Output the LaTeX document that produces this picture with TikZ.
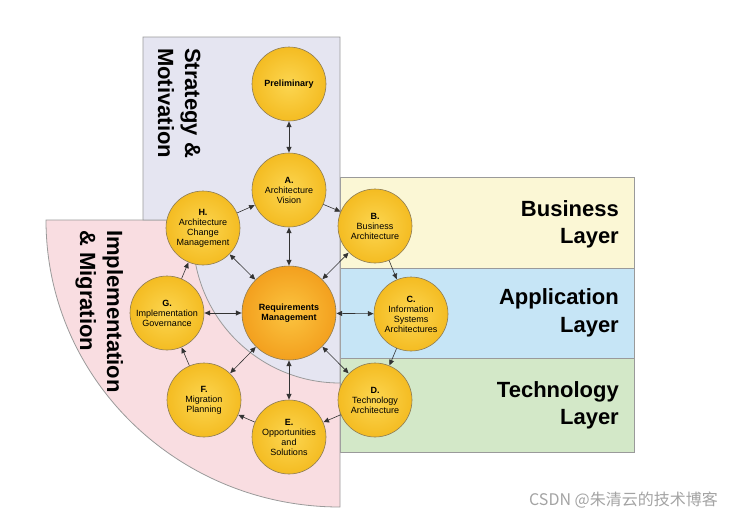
\documentclass[tikz,border=0pt]{standalone}
\usepackage{fontspec}
\setmainfont{Liberation Sans}
\newfontfamily\cjk{Noto Sans CJK SC}
\usetikzlibrary{arrows.meta,shadings}
\definecolor{lav}{HTML}{E5E5F1}
\definecolor{pinkc}{HTML}{F9DDE1}
\definecolor{yelc}{HTML}{FBF7D5}
\definecolor{bluec}{HTML}{C6E5F6}
\definecolor{greenc}{HTML}{D3E8C8}
\definecolor{edgec}{HTML}{9A9A9A}
\definecolor{circIn}{HTML}{FCD651}
\definecolor{circOut}{HTML}{F4BC22}
\definecolor{rmIn}{HTML}{FBC440}
\definecolor{rmOut}{HTML}{F3A01E}
\definecolor{circEdge}{HTML}{8C7B55}
\definecolor{arrc}{HTML}{333333}
\definecolor{wmark}{HTML}{A3A3A3}
\begin{document}
\begin{tikzpicture}[x=1pt,y=-1pt,
  region/.style={draw=edgec, line width=0.8pt},
  phase/.style={circle, draw=circEdge, line width=0.6pt, minimum size=74pt, inner sep=0pt,
    inner color=circIn, outer color=circOut, align=center,
    font=\fontsize{9}{10}\selectfont},
  rmstyle/.style={circle, draw=circEdge, line width=0.6pt, minimum size=94pt, inner sep=0pt,
    inner color=rmIn, outer color=rmOut, align=center,
    font=\bfseries\fontsize{9}{10.5}\selectfont},
  arr/.style={draw=arrc, line width=0.6pt, -{Triangle[length=5.5pt,width=5pt]}, shorten >=0.3pt},
  darr/.style={draw=arrc, line width=0.6pt, {Triangle[length=5.5pt,width=5pt]}-{Triangle[length=5.5pt,width=5pt]}, shorten >=0.3pt, shorten <=0.3pt},
  layertext/.style={font=\bfseries\fontsize{22}{27}\selectfont, anchor=base east, inner sep=0pt},
  sidetext/.style={font=\bfseries\fontsize{22}{27}\selectfont, anchor=base west, rotate=-90, inner sep=0pt}
]
\useasboundingbox (0,0) rectangle (734,515);

% layers
\filldraw[region, fill=yelc] (340,177) rectangle (634,268);
\filldraw[region, fill=bluec] (340,268) rectangle (634,358);
\filldraw[region, fill=greenc] (340,358) rectangle (634,452);

% implementation & migration quarter disc
\filldraw[region, fill=pinkc] (340,220) -- (46,220) arc[start angle=180, end angle=90, x radius=294, y radius=287] -- cycle;

% strategy & motivation region
\filldraw[region, fill=lav] (143,37) -- (340,37) -- (340,383) arc[start angle=90, end angle=180, radius=147] -- (193,220) -- (143,220) -- cycle;

% side labels
\node[sidetext] (sm1) at (185,48) {Strategy \&};
\node[sidetext] (sm2) at (158,48) {Motivation};
\node[sidetext] (im1) at (107,230) {Implementation};
\node[sidetext] (im2) at (80,230) {\& Migration};

% layer labels
\node[layertext] (bl1) at (619,216) {Business};
\node[layertext] (bl2) at (619,243) {Layer};
\node[layertext] (al1) at (619,304) {Application};
\node[layertext] (al2) at (619,332) {Layer};
\node[layertext] (tl1) at (619,397) {Technology};
\node[layertext] (tl2) at (619,424) {Layer};

% phases
\node[phase] (pre) at (289,84) {\textbf{Preliminary}};
\node[phase] (a) at (289,190) {\textbf{A.}\\Architecture\\Vision};
\node[phase] (b) at (375,226) {\textbf{B.}\\Business\\Architecture};
\node[phase] (c) at (411,314) {\textbf{C.}\\Information\\Systems\\Architectures};
\node[phase] (d) at (375,400) {\textbf{D.}\\Technology\\Architecture};
\node[phase] (e) at (289,437) {\textbf{E.}\\Opportunities\\and\\Solutions};
\node[phase] (f) at (204,400) {\textbf{F.}\\Migration\\Planning};
\node[phase] (g) at (167,313) {\textbf{G.}\\Implementation\\Governance};
\node[phase] (h) at (203,228) {\textbf{H.}\\Architecture\\Change\\Management};
\node[rmstyle] (rm) at (289,313) {Requirements\\Management};

% connectors
\draw[darr] (pre) -- (a);
\foreach \n in {a,b,c,d,e,f,g,h} { \draw[darr] (rm) -- (\n); }
\draw[arr] (a) -- (b);
\draw[arr] (b) -- (c);
\draw[arr] (c) -- (d);
\draw[arr] (d) -- (e);
\draw[arr] (e) -- (f);
\draw[arr] (f) -- (g);
\draw[arr] (g) -- (h);
\draw[arr] (h) -- (a);

% watermark
\node[font=\cjk\fontsize{16}{18}\selectfont, text=wmark, anchor=base east, inner sep=0pt] (wm) at (718,505) {CSDN @朱清云的技术博客};
\end{tikzpicture}
\end{document}
